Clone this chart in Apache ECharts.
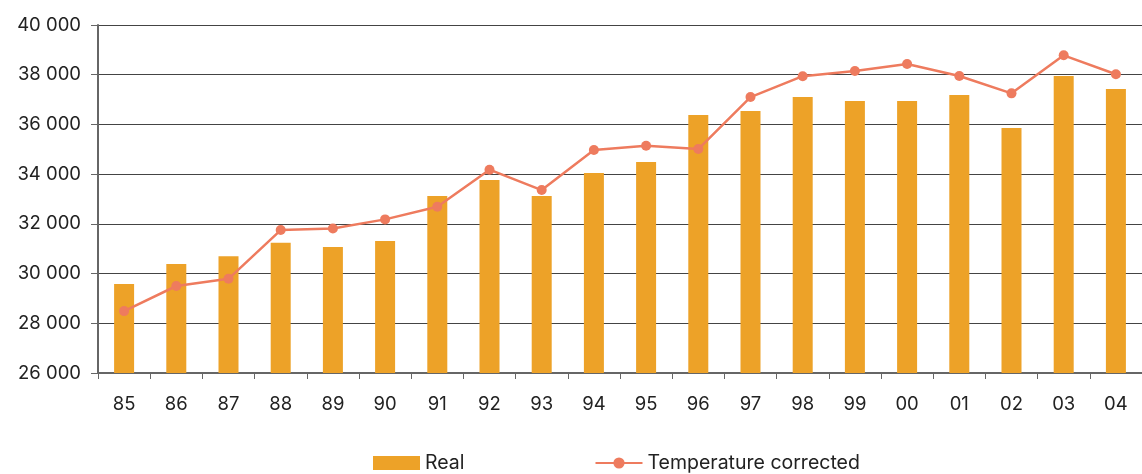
<!DOCTYPE html>
<html>
<head>
<meta charset="utf-8">
<script src="https://cdn.jsdelivr.net/npm/echarts@6/dist/echarts.min.js"></script>
<style>
html,body{margin:0;padding:0;background:#fff;}
#c{width:1142px;height:474px;}
</style>
</head>
<body>
<div id="c"></div>
<script>
const categories = ['85','86','87','88','89','90','91','92','93','94','95','96','97','98','99','00','01','02','03','04'];
const realValues = [29580,30390,30700,31240,31070,31310,33120,33760,33120,34050,34490,36380,36540,37100,36940,36940,37180,35860,37950,37430];
const tempCorrected = [28490,29500,29790,31750,31810,32180,32690,34180,33360,34970,35140,35010,37100,37940,38150,38430,37950,37250,38780,38020];
const yTicks = {min:26000, max:40000, interval:2000};

const FS = 18.5;
const chart = echarts.init(document.getElementById('c'));
const fmt = v => String(v).replace(/\B(?=(\d{3})+(?!\d))/g, ' ');
chart.setOption({
  animation:false,
  textStyle:{fontFamily:'Inter, Liberation Sans, Arial, sans-serif'},
  grid:{left:98, top:25, width:1052, height:348},
  legend:{
    left:373, top:453, padding:0, itemWidth:47, itemHeight:14, itemGap:130,
    textStyle:{fontSize:19.5, color:'#222', fontFamily:'Inter'},
    data:[{name:'Real', icon:'rect'}, {name:'Temperature corrected'}]
  },
  xAxis:{
    type:'category', data:categories, boundaryGap:true,
    axisLine:{lineStyle:{color:'#666', width:2}},
    axisTick:{show:true, length:6, lineStyle:{color:'#666', width:1}},
    axisLabel:{fontSize:FS, color:'#222', margin:22, fontFamily:'Inter'}
  },
  yAxis:{
    type:'value', min:yTicks.min, max:yTicks.max, interval:yTicks.interval,
    axisLine:{show:true, lineStyle:{color:'#666', width:2}},
    axisTick:{show:true, length:7, lineStyle:{color:'#666'}},
    axisLabel:{fontSize:FS, color:'#222', margin:17, formatter:fmt, fontFamily:'Inter'},
    splitLine:{lineStyle:{color:'#444', width:1}}
  },
  series:[
    {name:'Real', type:'bar', data:realValues, barWidth:20, itemStyle:{color:'#EDA228'}},
    {name:'Temperature corrected', type:'line', data:tempCorrected, symbol:'circle', symbolSize:10,
     lineStyle:{color:'#EE7B5E', width:2.5}, itemStyle:{color:'#EE7B5E'}}
  ]
});
</script>
</body>
</html>
